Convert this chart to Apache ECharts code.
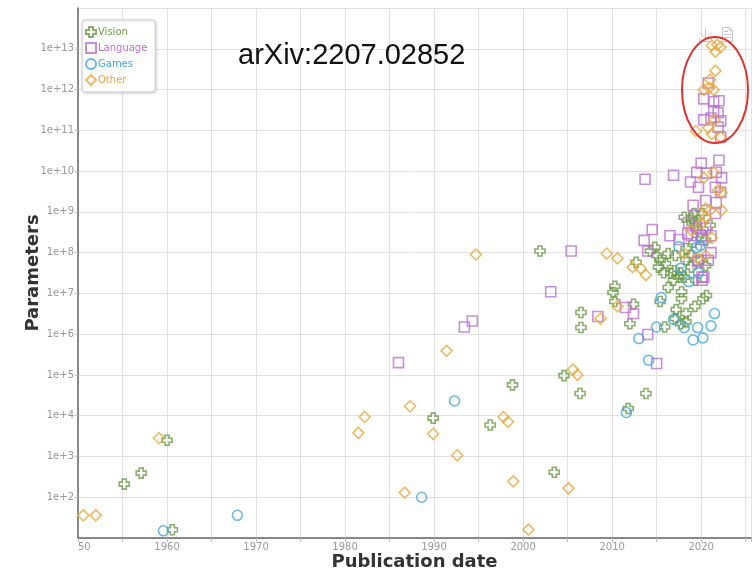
<!DOCTYPE html>
<html>
<head>
<meta charset="utf-8">
<script src="https://cdn.jsdelivr.net/npm/echarts@6/dist/echarts.min.js"></script>
<style>html,body{margin:0;padding:0;background:#fff;}#c{width:754px;height:569px;}</style>
</head>
<body>
<div id="c"></div>
<script>
// [publication year, parameters]
const visionData = [
  [1955.2,210],[1957.1,390],[1960.0,2500],[1960.6,16],[1989.9,8700],[1996.3,5900],[1998.8,5.7e4],
  [2001.9,1.1e8],[2003.5,410],[2004.6,9.6e4],[2006.4,3.5e4],[2006.5,1.45e6],[2006.5,3.4e6],
  [2010.3,1.5e7],[2010.1,1.05e7],[2010.3,6.3e6],[2012.4,5.4e6],[2012.0,1.8e6],[2015.4,6.3e6],
  [2015.9,1.5e6],[2013.8,3.5e4],[2011.8,1.5e4],[2017.8,1.1e7],[2017.8,7.4e6],[2019.3,4.8e6],
  [2020.2,7.4e6],[2017.2,4.0e6],[2018.3,3.2e6],[2018.3,2.0e6],[2017.7,1.8e6],[2017.1,2.4e6],
  [2014.8,1.35e8],[2014.3,1.1e8],[2012.7,5.8e7],[2015.4,6.5e7],[2016.0,5.4e7],[2016.3,9.5e7],
  [2017.0,3.6e7],[2015.8,3.2e7],[2016.6,3.1e7],[2017.5,2.5e7],[2018.3,6.8e7],[2019.2,1.8e8],
  [2020.0,6.5e7],[2020.5,4.8e7],[2018.9,8.5e7],[2019.4,5.5e8],[2021.0,4.7e8],[2020.6,8.9e6],
  [2019.2,9.1e8],[2018.9,6.9e8],[2018.1,7.4e8],[2019.0,5.2e8],[2019.4,4.0e8],[2020.1,9.1e8],
  [2015.0,8.5e7],[2015.2,4.4e7],[2017.1,8.5e7],[2016.9,2.1e7],[2017.7,3.2e7],[2018.1,2.5e7],
  [2016.3,1.4e7],[2019.4,2.1e7],[2018.9,4.4e7],[2018.3,1.26e8],[2019.9,3.2e8],[2020.5,2.0e8]
];
const languageData = [
  [1986.0,2.0e5],[1993.4,1.5e6],[1994.3,2.1e6],[2003.1,1.1e7],[2005.4,1.1e8],[2008.4,2.7e6],
  [2011.5,4.5e6],[2012.4,3.2e6],[2014.0,9.8e5],[2015.0,1.9e5],[2020.1,2.1e7],[2013.7,6.3e9],
  [2016.9,7.9e9],[2018.8,5.4e9],[2020.0,1.55e10],[2022.0,1.85e10],[2019.5,9.3e9],[2020.6,8.9e9],
  [2021.7,9.3e9],[2022.3,6.8e9],[2019.7,4.0e9],[2021.6,4.0e9],[2022.2,3.0e9],[2019.1,1.45e9],
  [2020.5,1.9e9],[2021.7,1.7e9],[2021.6,9.1e8],[2014.5,3.7e8],[2013.6,2.0e8],[2016.5,2.6e8],
  [2014.0,1.1e8],[2018.6,5.5e8],[2019.5,4.0e8],[2020.5,4.0e8],[2018.9,2.6e8],[2020.1,2.6e8],
  [2021.1,2.6e8],[2019.7,6.5e7],[2020.8,6.5e7],[2020.1,2.5e7],[2017.5,2.1e8],[2018.5,2.9e8],
  [2020.1,2.1e8],[2021.1,1.0e8],[2019.6,6.0e7],[2020.3,2.5e7],
  [2020.8,1.45e12],[2020.3,5.9e11],[2021.4,5.0e11],[2022.0,5.3e11],[2021.4,3.0e11],[2021.9,2.7e11],
  [2020.3,1.8e11],[2021.1,2.0e11],[2022.2,1.7e11],[2021.9,1.2e11],[2022.2,6.8e10]
];
const gamesData = [
  [1959.6,15],[1967.9,36],[1988.6,100],[1992.3,2.3e4],[2011.6,1.2e4],[2015.5,7.9e6],[2013.0,7.8e5],
  [2014.1,2.3e5],[2015.0,1.5e6],[2016.9,2.3e6],[2018.1,1.45e6],[2019.1,7.2e5],[2019.6,1.45e6],
  [2020.2,8.1e5],[2021.1,1.6e6],[2021.5,3.2e6],[2017.5,1.4e8],[2019.5,1.35e8],[2017.7,4.1e7],
  [2018.6,1.95e7],[2019.7,3.2e7],[2019.9,1.5e8]
];
const otherData = [
  [1950.6,36],[1952.0,36],[1959.1,2800],[1981.5,3800],[1982.2,9300],[1986.7,130],[1987.3,1.7e4],
  [1989.9,3600],[1991.4,3.9e5],[1992.6,1070],[1994.7,9.0e7],[1997.8,9300],[1998.3,7100],[1998.9,245],
  [2000.6,16],[2005.1,165],[2005.6,1.35e5],[2006.1,1.0e5],[2008.7,2.4e6],[2009.4,9.5e7],[2010.6,7.2e7],
  [2012.3,4.4e7],[2013.2,4.1e7],[2013.8,2.8e7],[2010.6,4.8e6],[2020.3,6.8e9],[2021.4,9.3e9],
  [2021.9,3.4e9],[2022.3,3.0e9],[2020.5,1.2e9],[2021.0,1.1e9],[2022.3,1.1e9],[2021.2,2.3e8],
  [2020.5,7.4e8],[2020.1,5.2e8],[2018.9,3.5e8],[2018.1,9.5e7],[2020.5,8.5e7],[2019.6,7.2e7],
  [2021.2,1.2e13],[2021.8,1.25e13],[2022.2,1.1e13],[2021.6,8.5e12],[2021.6,2.9e12],[2021.0,1.75e12],
  [2020.3,9.8e11],[2020.9,1.1e12],[2021.4,9.8e11],[2019.4,9.6e10],[2020.8,1.15e11],[2021.2,8.1e10],
  [2022.2,6.8e10],[2021.5,1.8e11]
];
const seriesNames = ['Vision','Language','Games','Other'];
const seriesColors = ['#6b9a48','#bb72cf','#42a9dc','#e6a93e'];
const xTickLabels = {1950:'50'};
const crossPath = 'path://M3,0 H7 V3 H10 V7 H7 V10 H3 V7 H0 V3 H3 Z';
const symbols = [crossPath,'rect','circle','diamond'];
const sizes = [10,10,10,11];
const dataSets = [visionData, languageData, gamesData, otherData];

const chart = echarts.init(document.getElementById('c'));
chart.setOption({
  animation:false,
  backgroundColor:'#fff',
  title:{text:'arXiv:2207.02852', left:233, top:36, textStyle:{fontFamily:'Liberation Sans', fontSize:29, fontWeight:'normal', color:'#111'}},
  toolbox:{right:4, top:10, itemSize:14, itemGap:6, iconStyle:{borderColor:'#c4c4c4'}, feature:{saveAsImage:{title:' '}, dataView:{title:' '}}},
  legend:{
    orient:'vertical', left:82, top:20, padding:[6,8,6,3], itemGap:4, itemWidth:10, itemHeight:10,
    backgroundColor:'#fff', borderColor:'#ccc', borderWidth:1, borderRadius:3,
    shadowBlur:3, shadowColor:'rgba(0,0,0,0.15)', shadowOffsetX:1, shadowOffsetY:1,
    textStyle:{fontSize:10, fontFamily:'DejaVu Sans', padding:[0,0,0,-3]},
    data: seriesNames.map((n,i)=>({name:n, textStyle:{color:seriesColors[i]}}))
  },
  grid:{left:78, right:3, top:8, bottom:31, containLabel:false, outerBoundsMode:'none'},
  xAxis:{
    type:'value', min:1950, max:2025.6, interval:10,
    name:'Publication date', nameLocation:'middle', nameGap:15, nameMoveOverlap:false,
    nameTextStyle:{fontFamily:'DejaVu Sans', fontWeight:'bold', fontSize:18, color:'#333'},
    axisLine:{lineStyle:{color:'#666', width:1.5}},
    axisTick:{show:true, length:4, lineStyle:{color:'#bbb'}},
    minorTick:{show:true, splitNumber:2, length:4, lineStyle:{color:'#bbb'}},
    splitLine:{show:true, lineStyle:{color:'#e2e2e2'}},
    minorSplitLine:{show:true, lineStyle:{color:'#e2e2e2'}},
    axisLabel:{showMaxLabel:false, alignMinLabel:'left', fontSize:10, fontFamily:'DejaVu Sans', color:'#999', margin:4,
      formatter:v=> xTickLabels[v] || String(v)}
  },
  yAxis:{
    type:'log', logBase:10, min:10, max:1e14, interval:1,
    name:'Parameters', nameLocation:'middle', nameGap:36, nameMoveOverlap:false,
    nameTextStyle:{fontFamily:'DejaVu Sans', fontWeight:'bold', fontSize:18, color:'#333'},
    axisLine:{show:true, lineStyle:{color:'#666', width:1.5}},
    axisTick:{show:true, length:3, lineStyle:{color:'#bbb'}},
    splitLine:{show:true, lineStyle:{color:'#e2e2e2'}},
    axisLabel:{showMinLabel:false, showMaxLabel:false, fontSize:10, fontFamily:'DejaVu Sans', color:'#999', margin:4,
      formatter:v=>'1e+'+Math.round(Math.log10(v))}
  },
  series: seriesNames.map((n,i)=>({
    name:n, type:'scatter', symbol:symbols[i], symbolSize:sizes[i],
    itemStyle:{color:'rgba(255,255,255,0)', borderColor:seriesColors[i], borderWidth:1.6},
    emphasis:{disabled:true},
    data: dataSets[i]
  })),
  graphic:[{type:'ellipse', shape:{cx:715, cy:90, rx:33, ry:53}, style:{fill:'none', stroke:'#e03030', lineWidth:2}, z:100}]
});
</script>
</body>
</html>
